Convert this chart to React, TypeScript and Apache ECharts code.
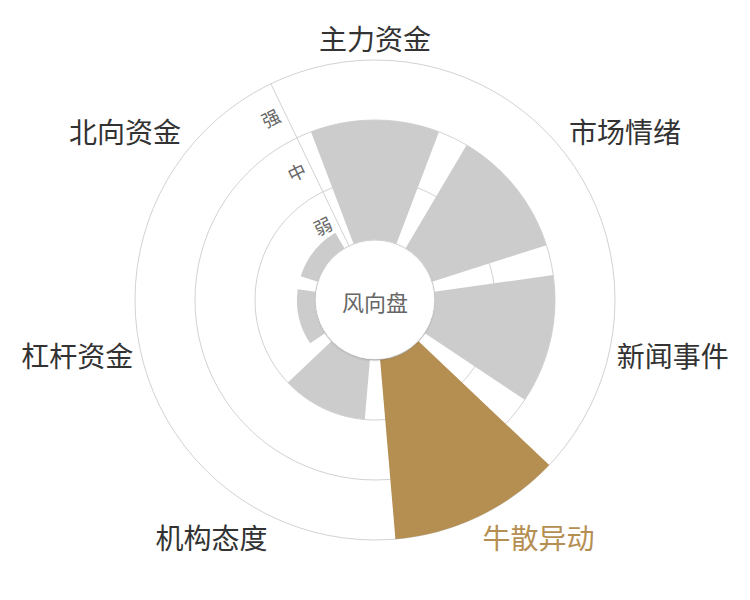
import * as echarts from 'echarts';
import { useEffect, useRef } from 'react';

// 风向盘: 7 个维度，强度 0~3 (弱/中/强)
const categories = ['主力资金', '市场情绪', '新闻事件', '牛散异动', '机构态度', '杠杆资金', '北向资金'];
const levels = ['弱', '中', '强'];
const values = [2, 2, 2, 3, 1, 0.3, 0.3];
const highlightIndex = 3;
const centerTitle = '风向盘';

const GOLD = '#b58f52';
const GRAY = '#cccccc';
const LINE = '#d2d2d2';

const CENTER = [375, 300];
const RADIUS = [60, 240];

const App = () => {
  const chartRef = useRef<HTMLDivElement>(null);

  useEffect(() => {
    if (!chartRef.current) return;
    const chart = echarts.init(chartRef.current, null, { renderer: 'svg' });

    // 第一个类目的中心在正上方
    const startAngle = 90 + 360 / categories.length / 2;

    const option: echarts.EChartsOption = {
      animation: false,
      textStyle: { fontFamily: 'Noto Sans CJK SC' },
      polar: [
        { center: CENTER, radius: RADIUS },
        { center: CENTER, radius: RADIUS },
      ],
      angleAxis: [
        {
          polarIndex: 0,
          type: 'category',
          startAngle,
          data: categories.map((c, i) =>
            i === highlightIndex ? { value: c, textStyle: { color: GOLD } } : c
          ),
          axisLine: { show: false },
          axisTick: { show: false },
          splitLine: { show: false },
          axisLabel: { fontSize: 28, color: '#333', margin: 8 },
        },
        {
          polarIndex: 1,
          type: 'category',
          startAngle,
          data: categories,
          show: false,
        },
      ],
      radiusAxis: [
        {
          polarIndex: 0,
          type: 'category',
          data: levels,
          axisLine: { show: true, lineStyle: { color: LINE, width: 1 } },
          axisTick: { show: false },
          axisLabel: { rotate: startAngle - 90, color: '#666', fontSize: 18, margin: 6 },
          splitLine: { show: true, lineStyle: { color: LINE, width: 1 } },
          z: 1,
        },
        {
          polarIndex: 1,
          type: 'value',
          min: 0,
          max: 3,
          show: false,
        },
      ],
      series: [
        {
          type: 'bar',
          coordinateSystem: 'polar',
          polarIndex: 1,
          barCategoryGap: '19%',
          z: 3,
          data: values.map((v, i) => ({
            value: v,
            itemStyle: { color: i === highlightIndex ? GOLD : GRAY },
          })),
        },
      ],
      graphic: [
        {
          type: 'circle',
          z: 100,
          shape: { cx: CENTER[0], cy: CENTER[1], r: 59 },
          style: {
            fill: '#fff',
            shadowBlur: 2,
            shadowOffsetY: 1,
            shadowColor: 'rgba(0,0,0,0.25)',
          },
        },
        {
          type: 'text',
          z: 101,
          x: CENTER[0],
          y: CENTER[1] + 1,
          style: {
            text: centerTitle,
            fill: '#666',
            fontSize: 22,
            fontFamily: 'Noto Sans CJK SC',
            align: 'center',
            verticalAlign: 'middle',
          },
        },
      ],
    };

    chart.setOption(option);
    return () => {
      chart.dispose();
    };
  }, []);

  return (
    <div
      ref={chartRef}
      style={{ position: 'fixed', left: 0, top: 0, width: 750, height: 600, background: '#fff' }}
    />
  );
};

export default App;
